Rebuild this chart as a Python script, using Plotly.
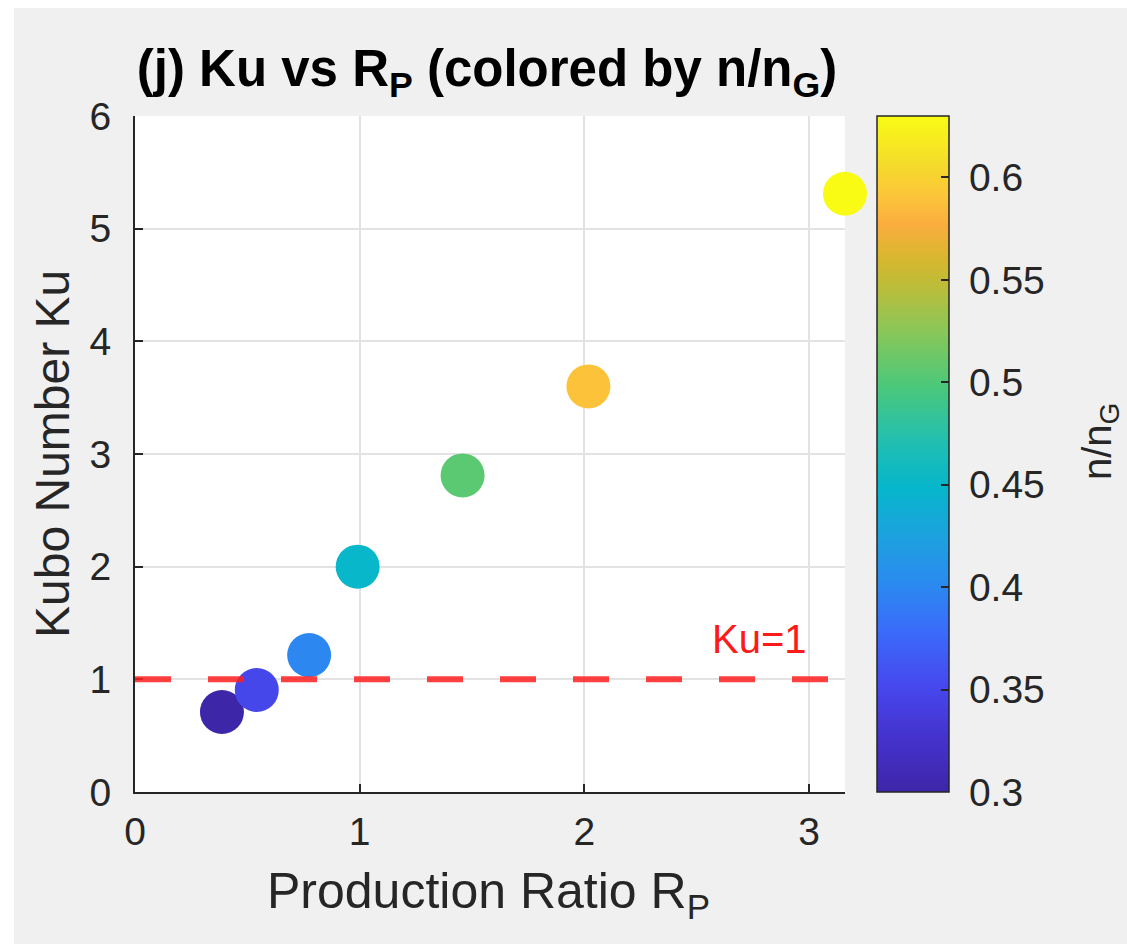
import plotly.graph_objects as go

# ---- data ----
production_ratio = [0.387, 0.542, 0.775, 0.991, 1.458, 2.018, 3.16]
kubo_number = [0.71, 0.905, 1.215, 2.0, 2.81, 3.6, 5.31]
density_ratio = [0.30, 0.35, 0.40, 0.45, 0.505, 0.59, 0.63]

ku_threshold = 1
x_ticks = [0, 1, 2, 3]
y_ticks = [0, 1, 2, 3, 4, 5, 6]
cbar_ticks = [0.3, 0.35, 0.4, 0.45, 0.5, 0.55, 0.6]
cbar_ticktext = ["0.3", "0.35", "0.4", "0.45", "0.5", "0.55", "0.6"]

# MATLAB parula (approximation)
parula = [
    [0.00, "#3e26a8"],
    [0.08, "#4432cc"],
    [0.16, "#4649ef"],
    [0.24, "#3a6cfa"],
    [0.31, "#2a8bef"],
    [0.38, "#1ca2de"],
    [0.45, "#06b6cb"],
    [0.52, "#22bfb0"],
    [0.60, "#4bc87b"],
    [0.68, "#88c759"],
    [0.75, "#bdbc38"],
    [0.79, "#d8b72e"],
    [0.84, "#fbad3e"],
    [0.88, "#fcc43a"],
    [0.93, "#f4dc2a"],
    [1.00, "#f9fb14"],
]

FONT = "Liberation Sans, Arial, Helvetica, sans-serif"
TXT = "#262626"
NBSP = "\u00a0"

fig = go.Figure()

fig.add_trace(go.Scatter(
    x=production_ratio,
    y=kubo_number,
    mode="markers",
    marker=dict(
        size=44,
        color=density_ratio,
        colorscale=parula,
        cmin=min(density_ratio),
        cmax=max(density_ratio),
        line=dict(width=0),
        colorbar=dict(
            x=1.0451, xanchor="left", xpad=0,
            y=0.5, yanchor="middle", ypad=0,
            len=1.0, lenmode="fraction",
            thickness=72,
            outlinewidth=1.5, outlinecolor=TXT,
            ticks="inside", ticklen=8, tickwidth=2, tickcolor=TXT,
            tickvals=cbar_ticks,
            ticktext=[NBSP + t for t in cbar_ticktext],
            tickfont=dict(family=FONT, size=39, color=TXT),
        ),
    ),
    cliponaxis=False,
    showlegend=False,
))

# Ku = 1 threshold line (drawn above the markers)
fig.add_shape(type="line", xref="x domain", yref="y",
              x0=0, x1=1, y0=ku_threshold, y1=ku_threshold,
              line=dict(color="rgba(255,30,30,0.85)", width=6, dash="36px,37px"),
              layer="above")

fig.add_annotation(x=3, y=1.36, xref="x", yref="y", text="Ku=1",
                   showarrow=False, xanchor="right", yanchor="middle",
                   font=dict(family=FONT, size=40, color="#ff1a1a"))

# axis titles
fig.add_annotation(x=-0.117, y=0.5, xref="paper", yref="paper",
                   text="Kubo Number Ku", textangle=-90, showarrow=False,
                   xanchor="center", yanchor="middle",
                   font=dict(family=FONT, size=48, color=TXT))
fig.add_annotation(x=0.498, y=-0.102, xref="paper", yref="paper",
                   text="Production Ratio R<sub>P</sub>", showarrow=False,
                   xanchor="center", yanchor="top",
                   font=dict(family=FONT, size=50, color=TXT))
# colorbar title
fig.add_annotation(x=(1100 - 135) / 710, y=(792 - 442) / 676,
                   xref="paper", yref="paper",
                   text="n/n<sub>G</sub>", textangle=-90, showarrow=False,
                   xanchor="center", yanchor="middle",
                   font=dict(family=FONT, size=40, color=TXT))

# thin white strips at top and left edge of the picture
fig.add_shape(type="rect", xref="paper", yref="paper",
              x0=-0.2, x1=(14 - 135) / 710, y0=-0.3, y1=1.2,
              fillcolor="white", line=dict(width=0), layer="above")
fig.add_shape(type="rect", xref="paper", yref="paper",
              x0=-0.2, x1=1.6, y0=(792 - 8) / 676, y1=1.2,
              fillcolor="white", line=dict(width=0), layer="above")

fig.update_layout(
    width=1127, height=944,
    margin=dict(l=135, r=282, t=116, b=152, pad=0),
    paper_bgcolor="#f0f0f0",
    plot_bgcolor="white",
    title=dict(text="<b>(j) Ku vs R<sub>P</sub> (colored by n/n<sub>G</sub>)</b>",
               x=487 / 1127, xanchor="center",
               y=1 - 68 / 944, yanchor="middle",
               font=dict(family=FONT, size=51, color="black")),
    font=dict(family=FONT, color=TXT),
)

fig.update_xaxes(
    range=[0, max(production_ratio)],
    tickvals=x_ticks,
    showgrid=True, gridcolor="#e3e3e3", gridwidth=2,
    zeroline=False,
    showline=True, linecolor=TXT, linewidth=2,
    ticks="inside", ticklen=8, tickwidth=2, tickcolor=TXT,
    tickfont=dict(family=FONT, size=39, color=TXT),
    ticklabelstandoff=4,
)
fig.update_yaxes(
    range=[0, 6],
    tickvals=y_ticks,
    showgrid=True, gridcolor="#e3e3e3", gridwidth=2,
    zeroline=False,
    showline=True, linecolor=TXT, linewidth=2,
    ticks="inside", ticklen=8, tickwidth=2, tickcolor=TXT,
    tickfont=dict(family=FONT, size=39, color=TXT),
    ticklabelstandoff=14,
)

fig.write_html("out.html")
